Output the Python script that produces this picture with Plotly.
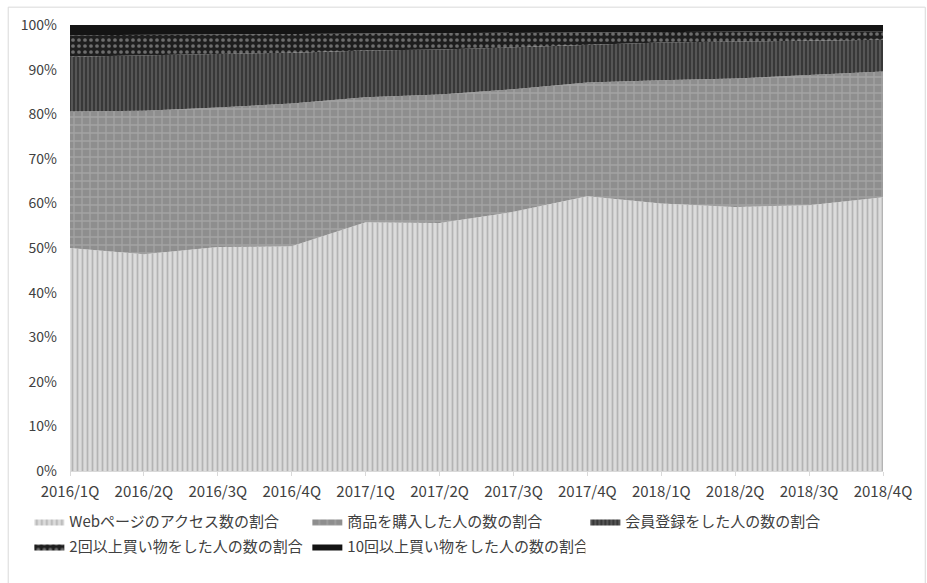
import plotly.graph_objects as go

categories = ["2016/1Q", "2016/2Q", "2016/3Q", "2016/4Q", "2017/1Q", "2017/2Q",
              "2017/3Q", "2017/4Q", "2018/1Q", "2018/2Q", "2018/3Q", "2018/4Q"]

web_access = [50.0, 48.6, 50.2, 50.4, 55.8, 55.6, 58.1, 61.6, 60.0, 59.2, 59.6, 61.4]
purchasers = [30.6, 32.2, 31.3, 32.0, 28.0, 28.8, 27.5, 25.5, 27.6, 28.8, 29.2, 28.2]
members = [12.3, 12.4, 12.0, 11.4, 10.5, 10.1, 9.4, 8.4, 8.5, 8.3, 7.7, 7.1]
repeat2 = [4.8, 4.6, 4.4, 4.2, 3.8, 3.7, 3.3, 2.9, 2.4, 2.2, 2.1, 1.9]
repeat10 = [2.3, 2.2, 2.1, 2.0, 1.9, 1.8, 1.7, 1.6, 1.5, 1.5, 1.4, 1.4]

names = ["Webページのアクセス数の割合", "商品を購入した人の数の割合", "会員登録をした人の数の割合",
         "2回以上買い物をした人の数の割合", "10回以上買い物をした人の数の割合"]
series = [web_access, purchasers, members, repeat2, repeat10]
styles = [
    dict(shape="|", bgcolor="#dcdcdc", fgcolor="#8c8c8c", size=5, solidity=0.35),
    dict(shape="+", bgcolor="#8e8e8e", fgcolor="#b8b8b8", size=8, solidity=0.3),
    dict(shape="|", bgcolor="#383838", fgcolor="#8f8f8f", size=4, solidity=0.35),
    dict(shape=".", bgcolor="#1e1e1e", fgcolor="#bdbdbd", size=6, solidity=0.3),
    dict(shape="", bgcolor="#141414", fgcolor="#141414", size=6, solidity=1.0),
]
legends = ["legend", "legend", "legend", "legend2", "legend2"]

fig = go.Figure()
for name, vals, st, lg in zip(names, series, styles, legends):
    fig.add_trace(go.Scatter(
        x=categories, y=vals, name=name, mode="lines",
        line=dict(width=0, color=st["bgcolor"]),
        stackgroup="one", groupnorm="percent",
        fillcolor=st["bgcolor"],
        fillpattern=dict(shape=st["shape"], bgcolor=st["bgcolor"], fgcolor=st["fgcolor"],
                         size=st["size"], solidity=st["solidity"]),
        legend=lg,
    ))

font_family = "Noto Sans CJK JP, Noto Sans, sans-serif"
legend_common = dict(orientation="h", xanchor="left", yanchor="middle",
                     entrywidth=233, entrywidthmode="pixels", traceorder="normal",
                     bgcolor="rgba(0,0,0,0)",
                     font=dict(size=15, color="#404040"), itemwidth=30)
fig.update_layout(
    width=927, height=583,
    margin=dict(l=70, r=44, t=25, b=112),
    paper_bgcolor="white", plot_bgcolor="white",
    font=dict(family=font_family, size=14, color="#404040"),
    showlegend=True,
    legend=dict(x=-0.05, y=-0.114, **legend_common),
    legend2=dict(x=-0.05, y=-0.170, **legend_common),
    xaxis=dict(type="category", range=[0, 11], showgrid=False,
               showline=True, linecolor="#d9d9d9", ticks="outside", ticklen=4,
               tickcolor="#d9d9d9", ticklabelstandoff=3,
               tickfont=dict(size=15, color="#404040")),
    yaxis=dict(range=[0, 100], dtick=10, ticksuffix="%", showgrid=False,
               zeroline=False, showline=False, ticklabelstandoff=12,
               tickfont=dict(size=14, color="#404040")),
    shapes=[dict(type="rect", xref="paper", yref="paper", x0=-0.076, x1=1.052,
                 y0=-0.26, y1=1.04, line=dict(color="#d9d9d9", width=1), layer="below")],
)

fig.write_html("out.html")
